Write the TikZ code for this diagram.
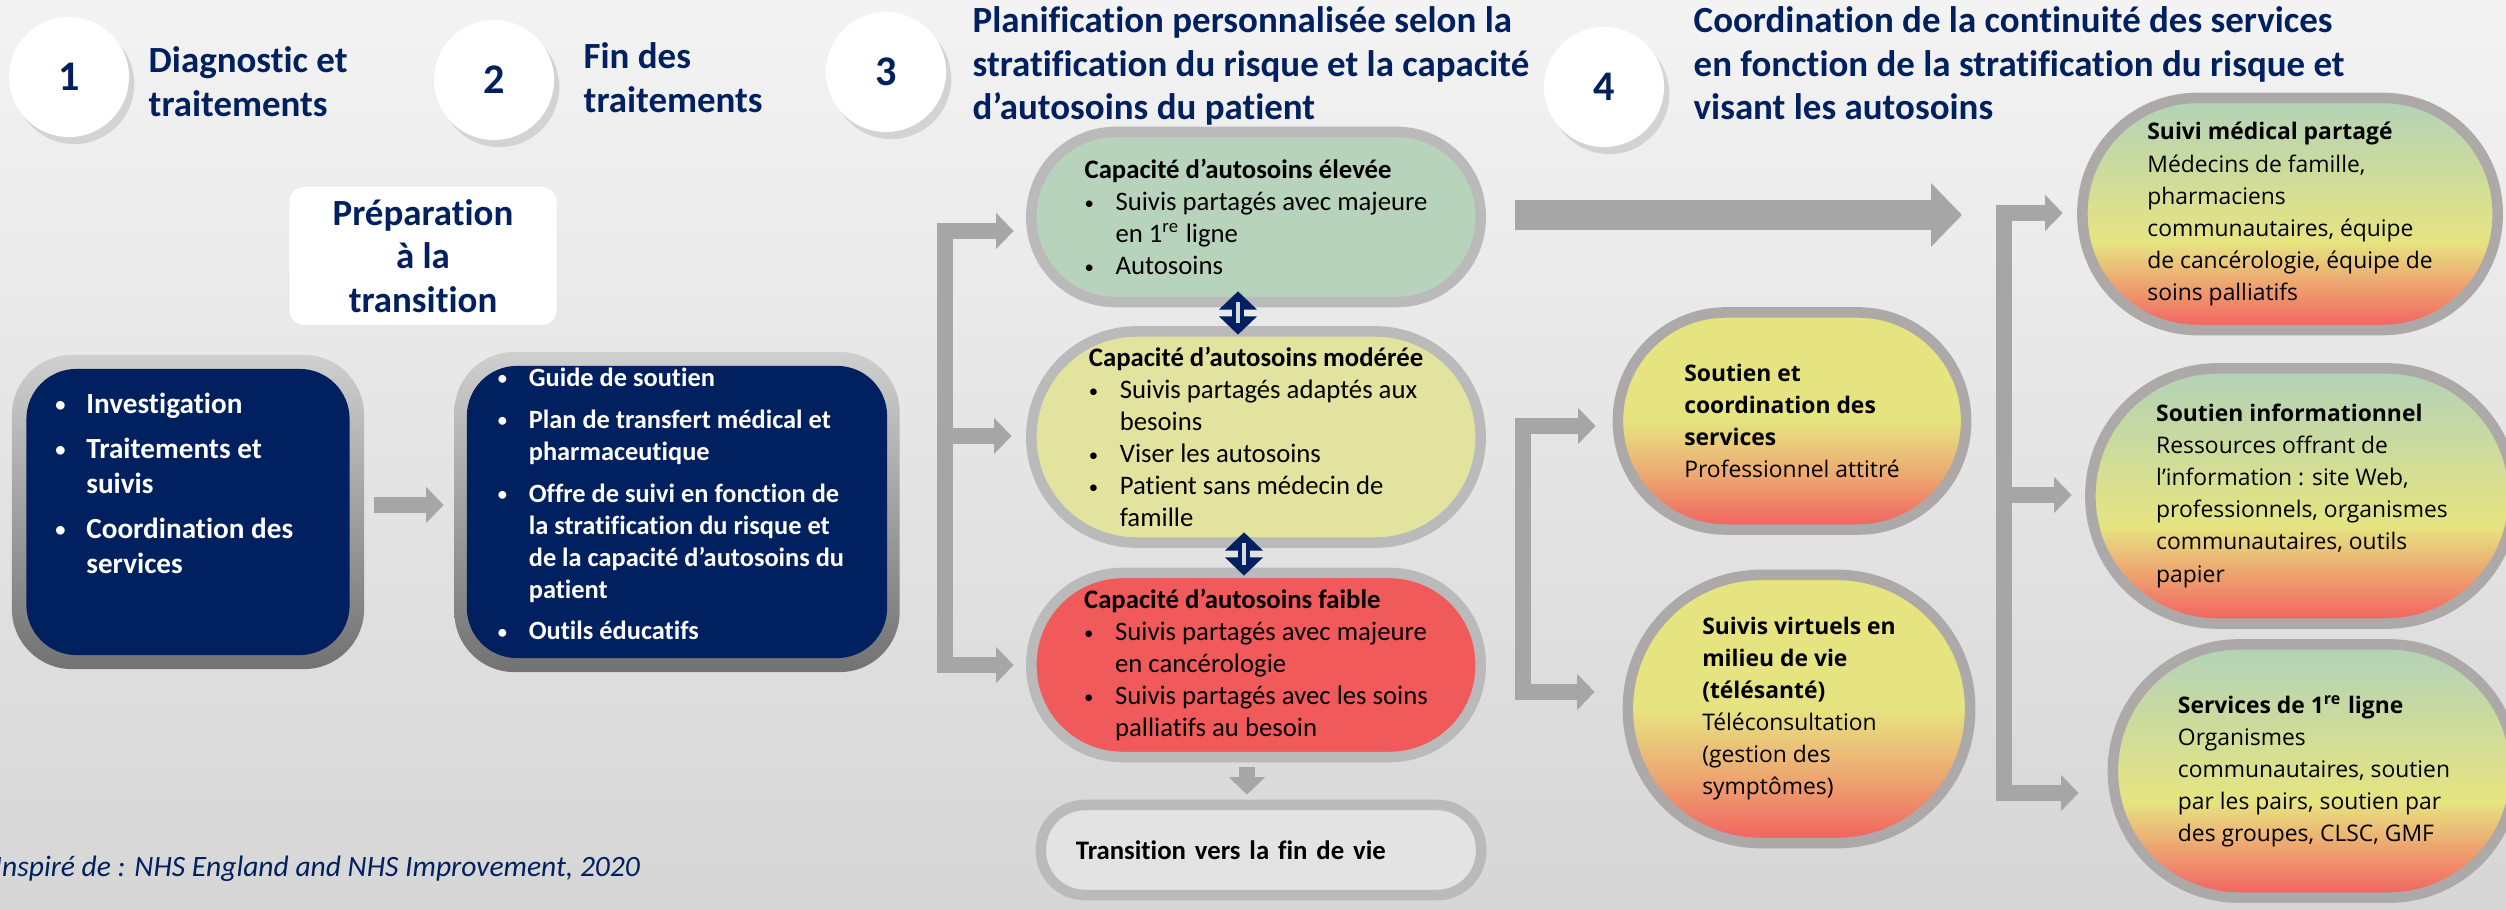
\documentclass[tikz,border=0pt]{standalone}
\usepackage{fontspec}
\setmainfont{Carlito}[Ligatures=CommonOff]
\newfontfamily\opensans{Open Sans}
\usepackage{graphicx}
\usepackage{tikz}
\usetikzlibrary{positioning,arrows.meta,shadows}

\definecolor{titleblue}{HTML}{002060}
\definecolor{arrowgray}{HTML}{A6A6A6}
\definecolor{ringgray}{HTML}{BABABA}
\definecolor{ringdark}{HTML}{ADA9A9}
\definecolor{fillgreen}{HTML}{B8D3BC}
\definecolor{fillyellow}{HTML}{E3E3A0}
\definecolor{fillred}{HTML}{F15A5A}
\definecolor{fillgray}{HTML}{E3E3E3}
\definecolor{gradgreen}{HTML}{B2D2B8}
\definecolor{gradyellow}{HTML}{E6E481}
\definecolor{gradorange}{HTML}{EDA570}
\definecolor{gradred}{HTML}{F25F5F}
\definecolor{bgtop}{HTML}{F3F3F3}
\definecolor{bgbottom}{HTML}{D6D6D6}
\definecolor{framelight}{HTML}{CFCFCF}
\definecolor{framedark}{HTML}{727272}
\definecolor{corelight}{HTML}{D9D9D9}

\pgfdeclareverticalshading{greentored}{100bp}{color(0bp)=(gradred); color(25bp)=(gradred); color(35bp)=(gradorange); color(44bp)=(gradyellow); color(75bp)=(gradgreen); color(100bp)=(gradgreen)}
\pgfdeclareverticalshading{yellowtored}{100bp}{color(0bp)=(gradred); color(25bp)=(gradred); color(37bp)=(gradorange); color(50bp)=(gradyellow); color(100bp)=(gradyellow)}

\newcommand{\puce}{\makebox[8.8pt][l]{\raisebox{0.12ex}{\scalebox{0.7}{\textbullet}}}}
\newcommand{\retrait}{\hspace*{8.8pt}}

\tikzset{
  numdisc/.style={circle, fill=white, minimum size=1.2cm, inner sep=0pt, text=titleblue,
    font=\fontsize{12}{14}\selectfont\bfseries,
    drop shadow={shadow xshift=1.5pt, shadow yshift=-2pt, opacity=0.25}},
  steptitle/.style={anchor=north west, align=left, inner sep=0pt, text=titleblue,
    font=\fontsize{10.5}{12.4}\selectfont\bfseries},
  prepbox/.style={fill=white, rounded corners=0.15cm, align=center, text=titleblue,
    font=\fontsize{10.5}{12.3}\selectfont\bfseries},
  boxframe/.style={rounded corners=0.6cm, top color=framelight, bottom color=framedark},
  navybox/.style={rounded corners=0.5cm, fill=titleblue},
  navytext/.style={anchor=north west, align=left, inner sep=0pt, text=white},
  capsule/.style={draw=ringgray, line width=3pt, align=left, inner sep=1pt,
    font=\fontsize{7.6}{9.1}\selectfont},
  offer/.style={draw=ringdark, line width=3pt, align=left, inner sep=1pt, shade,
    font=\opensans\fontsize{6.5}{9.1}\selectfont},
  flow/.style={arrowgray, line width=4.5pt, -{Triangle[length=5pt,width=10pt]}},
  bracket/.style={arrowgray, line width=4.5pt, line join=miter,
    {Triangle[length=5pt,width=10pt]}-{Triangle[length=5pt,width=10pt]}},
  bigflow/.style={arrowgray, line width=8.5pt, -{Triangle[length=8.8pt,width=17.6pt]}},
  twoway/.style={draw=titleblue, line width=3.4pt,
    {Triangle[length=5.2pt,width=10.5pt]}-{Triangle[length=5.2pt,width=10.5pt]}},
  twowaycore/.style={draw=corelight, line width=0.9pt}
}

\begin{document}
\begin{tikzpicture}[x=0.01cm, y=-0.01cm]
\useasboundingbox (0,0) rectangle (2506,910);
\shade[top color=bgtop, bottom color=bgbottom] (0,0) rectangle (2506,910);

% etapes
\node[numdisc] (n1) at (69,77) {1};
\node[steptitle] (t1) at (148,46) {Diagnostic et\\traitements};
\node[numdisc] (n2) at (494,80) {2};
\node[steptitle] (t2) at (583,42) {Fin des\\traitements};
\node[numdisc] (n3) at (886,72) {3};
\node[steptitle] (t3) at (972,6) {Planification personnalisée selon la\\stratification du risque et la capacité\\d’autosoins du patient};
\node[numdisc] (n4) at (1604,87) {4};
\node[steptitle] (t4) at (1693,6) {Coordination de la continuité des services\\en fonction de la stratification du risque et\\visant les autosoins};

\node[prepbox, minimum width=2.67cm, minimum height=1.38cm] (prep) at (423,256) {Préparation\\à la\\transition};

% boites bleues
\node[boxframe, minimum width=3.52cm, minimum height=3.14cm] (frame1) at (188,512) {};
\node[navybox, minimum width=3.23cm, minimum height=2.86cm] (box1) at (frame1.center) {};
\node[navytext, font=\fontsize{8.3}{10}\selectfont\bfseries] (list1) at ([xshift=0.29cm, yshift=-0.24cm]box1.north west) {%
\puce Investigation\\[2.8pt]
\puce Traitements et\\
\retrait suivis\\[2.8pt]
\puce Coordination des\\
\retrait services};

\node[boxframe, minimum width=4.45cm, minimum height=3.20cm] (frame2) at (677,512) {};
\node[navybox, minimum width=4.20cm, minimum height=2.92cm] (box2) at (frame2.center) {};
\node[navytext, font=\fontsize{7.5}{9.1}\selectfont\bfseries] (list2) at ([xshift=0.31cm, yshift=-0.02cm]box2.north west) {%
\puce Guide de soutien\\[2.8pt]
\puce Plan de transfert médical et\\
\retrait pharmaceutique\\[2.8pt]
\puce Offre de suivi en fonction de\\
\retrait la stratification du risque et\\
\retrait de la capacité d’autosoins du\\
\retrait patient\\[2.8pt]
\puce Outils éducatifs};

% capacite d'autosoins
\node[capsule, fill=fillgreen, minimum width=4.49cm, minimum height=1.70cm, rounded corners=0.84cm] (high) at (1256,217) {%
\textbf{Capacité d’autosoins élevée}\\
\puce Suivis partagés avec majeure\\
\retrait en 1\textsuperscript{re} ligne\\
\puce Autosoins};
\node[capsule, fill=fillyellow, minimum width=4.49cm, minimum height=2.11cm, rounded corners=1.05cm] (moderate) at (1256,437) {%
\textbf{Capacité d’autosoins modérée}\\
\puce Suivis partagés adaptés aux\\
\retrait besoins\\
\puce Viser les autosoins\\
\puce Patient sans médecin de\\
\retrait famille};
\node[capsule, fill=fillred, minimum width=4.49cm, minimum height=1.84cm, rounded corners=0.91cm] (low) at (1256,665) {%
\textbf{Capacité d’autosoins faible}\\
\puce Suivis partagés avec majeure\\
\retrait en cancérologie\\
\puce Suivis partagés avec les soins\\
\retrait palliatifs au besoin};
\node[capsule, fill=fillgray, minimum width=4.40cm, minimum height=0.90cm, rounded corners=0.44cm, text width=3.7cm] (endlife) at (1261,850) {\textbf{Transition vers la fin de vie}};

% services
\node[offer, shading=yellowtored, minimum width=3.48cm, minimum height=2.17cm, rounded corners=1.08cm] (support) at (1792,421) {%
\textbf{Soutien et}\\
\textbf{coordination des}\\
\textbf{services}\\
Professionnel attitré};
\node[offer, shading=yellowtored, minimum width=3.42cm, minimum height=2.68cm, rounded corners=1.33cm] (virtual) at (1799,709) {%
\textbf{Suivis virtuels en}\\
\textbf{milieu de vie}\\
\textbf{(télésanté)}\\
Téléconsultation\\
(gestion des\\
symptômes)};
\node[offer, shading=greentored, minimum width=4.15cm, minimum height=2.32cm, rounded corners=1.15cm] (shared) at (2290,214) {%
\textbf{Suivi médical partagé}\\
Médecins de famille,\\
pharmaciens\\
communautaires, équipe\\
de cancérologie, équipe de\\
soins palliatifs};
\node[offer, shading=greentored, minimum width=4.23cm, minimum height=2.55cm, rounded corners=1.27cm] (info) at (2302,496) {%
\textbf{Soutien informationnel}\\
Ressources offrant de\\
l’information : site Web,\\
professionnels, organismes\\
communautaires, outils\\
papier};
\node[offer, shading=greentored, minimum width=4.02cm, minimum height=2.53cm, rounded corners=1.26cm] (firstline) at (2314,771) {%
\textbf{Services de 1\textsuperscript{re} ligne}\\
Organismes\\
communautaires, soutien\\
par les pairs, soutien par\\
des groupes, CLSC, GMF};

\node[anchor=base west, inner sep=0pt, text=titleblue, font=\fontsize{8.4}{10}\selectfont\itshape] (source) at (-6,876) {Inspiré de : NHS England and NHS Improvement, 2020};

% fleches
\draw[flow, shorten <=0.09cm, shorten >=0.10cm] ([yshift=0.07cm]frame1.east) -- ([yshift=0.07cm]frame2.west);

\coordinate (brA) at (945,231);
\coordinate (brB) at (945,436);
\coordinate (brC) at (945,665);
\draw[bracket, shorten <=0.125cm, shorten >=0.125cm] (brA -| high.west) -- (brA) -- (brC) -- (brC -| low.west);
\draw[flow, shorten >=0.145cm] (brB) -- (brB -| moderate.west);

\draw[twoway, shorten <=-0.16cm, shorten >=-0.085cm] ([xshift=-0.18cm]high.south) -- ([xshift=-0.18cm]moderate.north);
\draw[twowaycore, shorten <=-0.05cm, shorten >=0.03cm] ([xshift=-0.18cm]high.south) -- ([xshift=-0.18cm]moderate.north);
\draw[twoway, shorten <=-0.155cm, shorten >=-0.08cm] ([xshift=-0.12cm]moderate.south) -- ([xshift=-0.12cm]low.north);
\draw[twowaycore, shorten <=-0.05cm, shorten >=0.03cm] ([xshift=-0.12cm]moderate.south) -- ([xshift=-0.12cm]low.north);

\draw[flow, line width=4.3pt, shorten <=0.05cm, shorten >=0.05cm] ([xshift=-0.09cm]low.south) -- ([xshift=-0.09cm]low.south |- endlife.north);

\coordinate (bigtip) at (1962,215);
\draw[bigflow, shorten <=0.295cm] (bigtip -| high.east) -- (bigtip);

\coordinate (brD) at (1523,426);
\coordinate (brE) at (1523,692);
\draw[bracket, shorten <=0.17cm, shorten >=0.28cm] (brD -| support.west) -- (brD) -- (brE) -- (brE -| virtual.west);

\coordinate (brF) at (2004,213);
\coordinate (brG) at (2004,495);
\coordinate (brH) at (2004,793);
\draw[bracket, shorten <=0.145cm, shorten >=0.29cm] (brF -| shared.west) -- (brF) -- (brH) -- (brH -| firstline.west);
\draw[flow, shorten >=0.135cm] (brG) -- (brG -| info.west);
\end{tikzpicture}
\end{document}
